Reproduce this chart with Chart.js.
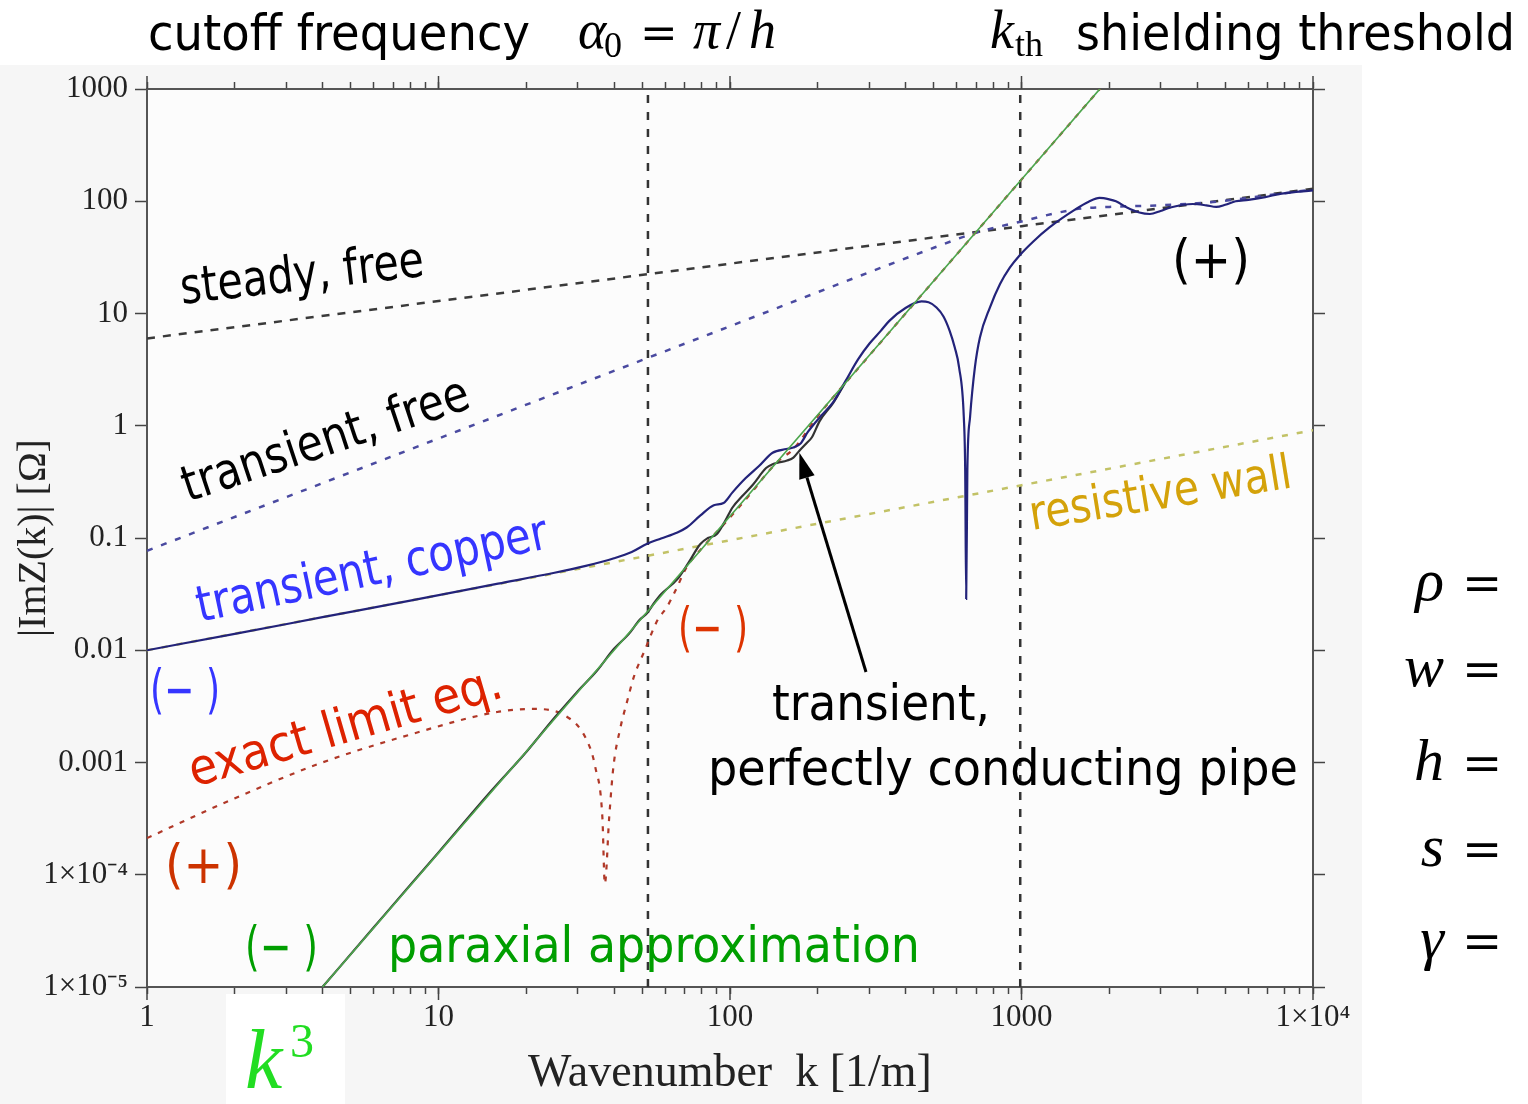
<!DOCTYPE html>
<html>
<head>
<meta charset="utf-8">
<title>|ImZ(k)| vs wavenumber</title>
<script src="https://cdn.jsdelivr.net/npm/chart.js@4.4.1/dist/chart.umd.min.js"></script>
<style>
  html, body { margin: 0; padding: 0; background: #fff; }
  #wrap { width: 1528px; height: 1104px; position: relative; }
</style>
</head>
<body>
<div id="wrap"><canvas id="impedanceChart"></canvas></div>
<script>
// wavenumber k [1/m] against |Im Z(k)| [Ohm], one pair of arrays per curve
const steadyK = [1, 10, 100, 1000, 10000];
const steadyZ = [6.0, 12.9, 27.8, 60, 129];

const freeK = [1, 10, 100, 500, 690, 850, 1000, 1300, 1600, 2000, 3000, 4000, 5000, 7000, 10000];
const freeZ = [0.077, 0.77, 7.7, 38.5, 52, 60, 66, 78, 86, 89, 92, 96, 101, 113, 127];

const wallK = [1, 10, 100, 1000, 10000];
const wallZ = [0.0100, 0.0309, 0.0955, 0.295, 0.912];

const copperK = [1, 2, 4, 8, 16, 25, 32, 40, 46, 52, 58, 66, 71, 79, 88, 95, 102, 113, 126, 140, 156, 165, 175, 185, 205, 226, 249, 275, 301, 329, 352, 400, 454, 480, 511, 540, 567, 590, 611, 634, 641, 646, 652, 666, 692, 720, 779, 844, 913, 983, 1100, 1247, 1535, 1700, 1852, 2000, 2109, 2300, 2537, 2757, 3000, 3242, 3871, 4300, 4657, 5000, 5425, 6000, 6856, 7807, 10000];
const copperZ = [0.0100, 0.0140, 0.0197, 0.0277, 0.0392, 0.0490, 0.0565, 0.0660, 0.0750, 0.0890, 0.0990, 0.112, 0.124, 0.158, 0.196, 0.205, 0.255, 0.340, 0.440, 0.575, 0.620, 0.640, 0.700, 0.880, 1.22, 1.62, 2.5, 3.9, 5.4, 7.0, 8.6, 11.2, 12.8, 12.6, 11.3, 9.4, 7.0, 5.0, 3.3, 1.19, 0.40, 0.0286, 0.40, 1.19, 3.31, 6.12, 11.3, 18.3, 25.7, 32.7, 44, 58.4, 85, 99, 107, 104, 100, 88, 79.4, 77, 82, 88, 94.5, 92, 89, 93, 100, 103, 109, 117, 125];

const pipeK = [4, 6, 8, 10, 15, 20, 25, 30, 35, 40, 45, 49, 52, 55, 58, 66, 72, 79, 84, 90, 96, 102, 110, 120, 133, 140, 147, 157, 165, 173, 183, 191, 203, 226, 249];
const pipeZ = [1.0e-5, 3.4e-5, 8.1e-5, 1.58e-4, 5.4e-4, 1.24e-3, 2.5e-3, 4.3e-3, 6.6e-3, 0.0103, 0.0140, 0.0187, 0.0215, 0.0265, 0.0315, 0.043, 0.060, 0.088, 0.100, 0.108, 0.140, 0.187, 0.235, 0.300, 0.420, 0.455, 0.470, 0.490, 0.520, 0.600, 0.700, 0.790, 1.10, 1.60, 2.45];

const exactK = [1, 1.92, 3.89, 7.86, 15.9, 21, 27, 32.3, 34.5, 36.5, 37.2, 38.5, 39.8, 42, 44.5, 46.7, 51, 56.5, 60.6, 65, 71, 78.7, 97.8, 120, 133, 147, 165, 200, 300, 500, 1000, 2000];
const exactZ = [2.12e-4, 4.58e-4, 9.75e-4, 1.75e-3, 2.82e-3, 3.0e-3, 2.64e-3, 1.57e-3, 9.1e-4, 3.2e-4, 8.3e-5, 3.2e-4, 9.1e-4, 2.0e-3, 3.6e-3, 5.7e-3, 0.010, 0.0187, 0.024, 0.034, 0.055, 0.077, 0.143, 0.264, 0.37, 0.49, 0.62, 1.22, 4.2, 19.5, 156, 1250];

const paraxialK = [4, 10, 100, 1000, 2000];
const paraxialZ = [1.0e-5, 1.5625e-4, 0.15625, 156.25, 1250];

// cutoff alpha0 = pi/h and shielding threshold k_th
const cutoffK = 52.3;
const thresholdK = 990;

const xMajor = [1, 10, 100, 1000, 10000];
const xMajorLabels = ['1', '10', '100', '1000', '1×10⁴'];
const yMajor = [1e-5, 1e-4, 1e-3, 0.01, 0.1, 1, 10, 100, 1000];
const yMajorLabels = ['1×10⁻⁵', '1×10⁻⁴', '0.001', '0.01', '0.1', '1', '10', '100', '1000'];

function points(ks, zs) {
    return ks.map((k, i) => ({ x: k, y: zs[i] }));
}

function vertical(k) {
    return [{ x: k, y: yMajor[0] }, { x: k, y: yMajor[yMajor.length - 1] }];
}

// 1..9 in each decade for the x axis tick marks
const xTickValues = [];
xMajor.slice(0, -1).forEach(d => {
    for (let m = 1; m < 10; m++) xTickValues.push(d * m);
});
xTickValues.push(xMajor[xMajor.length - 1]);

function xLabel(value) {
    const i = xMajor.indexOf(value);
    return i >= 0 ? xMajorLabels[i] : '';
}
function yLabel(value) {
    const i = yMajor.indexOf(value);
    return i >= 0 ? yMajorLabels[i] : '';
}

const tickFont = { family: 'Liberation Serif', size: 31 };
const frame = { display: true, color: '#555', width: 2 };

const SANS = '"DejaVu Sans"';
const ITAL = 'italic 54px "Liberation Serif"';

function label(ctx, text, x, y, opts) {
    const { size = 50, color = '#000', angle = 0, width } = opts;
    ctx.save();
    ctx.translate(x, y);
    ctx.rotate(angle * Math.PI / 180);
    ctx.font = `${size}px ${SANS}`;
    ctx.fillStyle = color;
    ctx.textBaseline = 'alphabetic';
    if (width) {
        const w = ctx.measureText(text).width;
        ctx.scale(width / w, 1);
    }
    ctx.fillText(text, 0, 0);
    ctx.restore();
}

function glyphs(ctx, parts, color) {
    ctx.save();
    ctx.fillStyle = color;
    ctx.textBaseline = 'alphabetic';
    parts.forEach(([t, font, x, y, align]) => {
        ctx.font = font;
        ctx.textAlign = align || 'left';
        ctx.fillText(t, x, y);
    });
    ctx.restore();
}

function arrow(ctx, x0, y0, x1, y1) {
    const ang = Math.atan2(y1 - y0, x1 - x0);
    const head = 26, half = 8;
    const bx = x1 - head * Math.cos(ang), by = y1 - head * Math.sin(ang);
    ctx.save();
    ctx.strokeStyle = '#000';
    ctx.fillStyle = '#000';
    ctx.lineWidth = 3;
    ctx.beginPath();
    ctx.moveTo(x0, y0);
    ctx.lineTo(bx, by);
    ctx.stroke();
    ctx.beginPath();
    ctx.moveTo(x1, y1);
    ctx.lineTo(bx + half * Math.sin(ang), by - half * Math.cos(ang));
    ctx.lineTo(bx - half * Math.sin(ang), by + half * Math.cos(ang));
    ctx.closePath();
    ctx.fill();
    ctx.restore();
}

const backdrop = {
    id: 'backdrop',
    beforeDraw(chart) {
        const { ctx, chartArea: a } = chart;
        ctx.save();
        ctx.fillStyle = '#ffffff';
        ctx.fillRect(0, 0, chart.width, chart.height);
        ctx.fillStyle = '#f6f6f6';
        ctx.fillRect(0, 65, 1362, chart.height - 65);
        ctx.fillStyle = '#fcfcfc';
        ctx.fillRect(a.left, a.top, a.right - a.left, a.bottom - a.top);
        ctx.fillStyle = '#ffffff';
        ctx.fillRect(226, 994, 119, 110);
        ctx.restore();
    }
};

// decade ticks on the k axes are longer than the 2..9 ones
const majorTicks = {
    id: 'majorTicks',
    afterDraw(chart) {
        const { ctx, chartArea: a, scales } = chart;
        ctx.save();
        ctx.strokeStyle = '#444';
        ctx.lineWidth = 1.5;
        xMajor.forEach(v => {
            const px = scales.x.getPixelForValue(v);
            ctx.beginPath();
            ctx.moveTo(px, a.bottom);
            ctx.lineTo(px, a.bottom + 13);
            ctx.moveTo(px, a.top);
            ctx.lineTo(px, a.top - 13);
            ctx.stroke();
        });
        ctx.restore();
    }
};

const annotations = {
    id: 'annotations',
    afterDraw(chart) {
        const { ctx, scales } = chart;

        label(ctx, 'cutoff frequency', 148, 50, { width: 382 });
        label(ctx, 'shielding threshold', 1076, 50, { width: 439 });
        glyphs(ctx, [
            ['α', ITAL, 578, 48],
            ['0', '36px "Liberation Serif"', 604, 57],
            ['=', '45px "DejaVu Serif"', 640, 48],
            ['π', ITAL, 693, 48],
            ['/', '54px "Liberation Serif"', 726, 48],
            ['h', ITAL, 749, 48],
            ['k', ITAL, 990, 48],
            ['th', '36px "Liberation Serif"', 1015, 56]
        ], '#000');

        const rows = [['ρ', 600], ['w', 686], ['h', 780], ['s', 866], ['γ', 958]];
        glyphs(ctx, rows.flatMap(([t, y]) => [
            [t, 'italic 60px "Liberation Serif"', 1444, y, 'right'],
            ['=', '48px "DejaVu Serif"', 1462, y]
        ]), '#000');

        glyphs(ctx, [
            ['k', 'italic 84px "Liberation Serif"', 245, 1088],
            ['3', '48px "Liberation Serif"', 290, 1057]
        ], '#22dd22');

        label(ctx, 'steady, free', 182, 304, { width: 245, angle: -6.6 });
        label(ctx, 'transient, free', 188, 502, { width: 300, angle: -18.4 });
        label(ctx, 'transient, copper', 200, 622, { width: 358, angle: -12, color: '#3535ff' });
        label(ctx, 'exact limit eq.', 194, 787, { width: 324, angle: -16.2, color: '#dd2200' });
        label(ctx, 'resistive wall', 1032, 530, { size: 48, width: 265, angle: -9.3, color: '#d4a20a' });
        label(ctx, 'paraxial approximation', 388, 962, { width: 532, color: '#009e00' });
        label(ctx, 'transient,', 772, 720, { width: 218 });
        label(ctx, 'perfectly conducting pipe', 708, 785, { width: 590 });

        label(ctx, '(− )', 150, 708, { size: 54, width: 70, color: '#3535ff' });
        label(ctx, '(− )', 678, 646, { size: 54, width: 70, color: '#dd3300' });
        label(ctx, '(− )', 245, 965, { size: 54, width: 73, color: '#009e00' });
        label(ctx, '(+)', 165, 883, { size: 54, width: 77, color: '#cc3300' });
        label(ctx, '(+)', 1172, 278, { size: 54, width: 78 });

        // arrow onto the perfectly conducting pipe curve
        const tipX = scales.x.getPixelForValue(pipeK[29]);
        const tipY = scales.y.getPixelForValue(pipeZ[29]);
        arrow(ctx, 866, 672, tipX, tipY + 2);
    }
};

const context = document.getElementById('impedanceChart').getContext('2d');

new Chart(context, {
    type: 'line',
    data: {
        datasets: [
            {
                label: 'paraxial approximation',
                data: points(paraxialK, paraxialZ),
                borderColor: '#4da64d',
                borderWidth: 1.7,
                order: 0
            },
            {
                label: 'transient, copper',
                data: points(copperK, copperZ),
                borderColor: '#23237a',
                borderWidth: 2.2,
                cubicInterpolationMode: 'monotone',
                order: 1
            },
            {
                label: 'transient, perfectly conducting pipe',
                data: points(pipeK, pipeZ),
                borderColor: '#333333',
                borderWidth: 2.2,
                cubicInterpolationMode: 'monotone',
                order: 2
            },
            {
                label: 'exact limit eq.',
                data: points(exactK, exactZ),
                borderColor: '#b03828',
                borderWidth: 2.2,
                borderDash: [5, 7],
                cubicInterpolationMode: 'monotone',
                order: 3
            },
            {
                label: 'resistive wall',
                data: points(wallK, wallZ),
                borderColor: '#c2c266',
                borderWidth: 2.5,
                borderDash: [6, 9],
                order: 4
            },
            {
                label: 'transient, free',
                data: points(freeK, freeZ),
                borderColor: '#4a4aa0',
                borderWidth: 2.5,
                borderDash: [6, 9],
                cubicInterpolationMode: 'monotone',
                order: 5
            },
            {
                label: 'steady, free',
                data: points(steadyK, steadyZ),
                borderColor: '#3a3a3a',
                borderWidth: 2.5,
                borderDash: [8, 8],
                order: 6
            },
            {
                label: 'cutoff',
                data: vertical(cutoffK),
                borderColor: '#333333',
                borderWidth: 2.5,
                borderDash: [8, 9],
                order: 7
            },
            {
                label: 'threshold',
                data: vertical(thresholdK),
                borderColor: '#333333',
                borderWidth: 2.5,
                borderDash: [8, 9],
                order: 7
            }
        ]
    },
    options: {
        responsive: true,
        maintainAspectRatio: false,
        devicePixelRatio: 1,
        animation: false,
        layout: { padding: 0 },
        elements: { point: { radius: 0 }, line: { fill: false } },
        plugins: { legend: { display: false }, tooltip: { enabled: false } },
        scales: {
            x: {
                type: 'logarithmic',
                position: 'bottom',
                min: 1,
                max: 10000,
                afterBuildTicks: s => { s.ticks = xTickValues.map(v => ({ value: v })); },
                afterFit: s => { s.height = 117; },
                ticks: { autoSkip: false, maxRotation: 0, padding: 5, color: '#222', font: tickFont, callback: xLabel },
                grid: { drawOnChartArea: false, drawTicks: true, tickLength: 7, tickColor: '#444', tickWidth: 1.5 },
                border: frame,
                title: {
                    display: true,
                    text: 'Wavenumber  k [1/m]',
                    color: '#222',
                    font: { family: 'Liberation Serif', size: 46 },
                    padding: { top: 0, bottom: 2 }
                }
            },
            x2: {
                type: 'logarithmic',
                position: 'top',
                min: 1,
                max: 10000,
                afterBuildTicks: s => { s.ticks = xTickValues.map(v => ({ value: v })); },
                afterFit: s => { s.height = 89; },
                ticks: { autoSkip: false, maxRotation: 0, callback: () => '' },
                grid: { drawOnChartArea: false, drawTicks: true, tickLength: 7, tickColor: '#444', tickWidth: 1.5 },
                border: frame
            },
            y: {
                type: 'logarithmic',
                position: 'left',
                min: 1e-5,
                max: 1000,
                afterBuildTicks: s => { s.ticks = yMajor.map(v => ({ value: v })); },
                afterFit: s => { s.width = 147; },
                ticks: { autoSkip: false, padding: 7, color: '#222', font: tickFont, callback: yLabel },
                grid: { drawOnChartArea: false, drawTicks: true, tickLength: 12, tickColor: '#444', tickWidth: 1.5 },
                border: frame,
                title: {
                    display: true,
                    text: '|ImZ(k)| [Ω]',
                    color: '#222',
                    font: { family: 'Liberation Serif', size: 40 },
                    padding: { top: 10, bottom: 0 }
                }
            },
            y2: {
                type: 'logarithmic',
                position: 'right',
                min: 1e-5,
                max: 1000,
                afterBuildTicks: s => { s.ticks = yMajor.map(v => ({ value: v })); },
                afterFit: s => { s.width = 215; },
                ticks: { autoSkip: false, callback: () => '' },
                grid: { drawOnChartArea: false, drawTicks: true, tickLength: 12, tickColor: '#444', tickWidth: 1.5 },
                border: frame
            }
        }
    },
    plugins: [backdrop, majorTicks, annotations]
});
</script>
</body>
</html>
